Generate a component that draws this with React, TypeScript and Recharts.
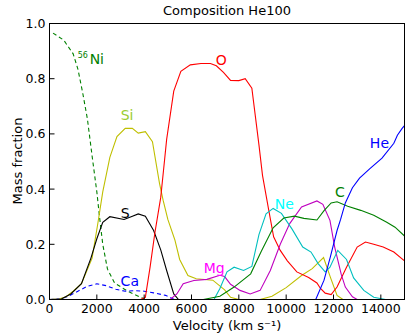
import { LineChart, Line, XAxis, YAxis, ReferenceDot, Label } from 'recharts'

const FONT = '"DejaVu Sans", sans-serif'

const velocityTicks = [0, 2000, 4000, 6000, 8000, 10000, 12000, 14000]
const fractionTicks = [0, 0.2, 0.4, 0.6, 0.8, 1.0]

// [velocity km/s, mass fraction]
const ni56 = [[150, 0.965], [600, 0.94], [1000, 0.89], [1200, 0.835], [1400, 0.75], [1600, 0.655], [1800, 0.52], [2000, 0.39], [2100, 0.31], [2250, 0.2], [2450, 0.11], [2750, 0.06], [3300, 0.03], [3900, 0.006], [4050, 0]]
const ca = [[0, 0], [500, 0.003], [800, 0.012], [1200, 0.03], [1600, 0.048], [2000, 0.057], [2400, 0.05], [2800, 0.037], [3200, 0.03], [3600, 0.032], [4000, 0.03], [4400, 0.024], [4900, 0.015], [5200, 0.003], [5400, 0]]
const si = [[0, 0], [400, 0.002], [700, 0.01], [1000, 0.03], [1350, 0.057], [1800, 0.15], [2050, 0.28], [2250, 0.39], [2550, 0.515], [2850, 0.59], [3200, 0.62], [3500, 0.62], [3750, 0.603], [4050, 0.608], [4350, 0.572], [4650, 0.42], [4800, 0.36], [5000, 0.29], [5300, 0.215], [5500, 0.145], [5850, 0.087], [6200, 0.075], [6900, 0.07], [7400, 0.035], [7650, 0.008], [8000, 0], [8900, 0], [9400, 0.012], [10000, 0.043], [10650, 0.087], [11100, 0.112], [11580, 0.152], [11870, 0.08], [12150, 0.015], [12400, 0], [15000, 0]]
const sulfur = [[0, 0], [500, 0.002], [900, 0.02], [1350, 0.057], [1750, 0.15], [2000, 0.22], [2250, 0.28], [2550, 0.3], [3150, 0.29], [3450, 0.3], [3750, 0.31], [4050, 0.302], [4400, 0.25], [4700, 0.18], [4950, 0.105], [5250, 0.02], [5450, 0], [15000, 0]]
const oxygen = [[0, 0], [3850, 0], [4050, 0.008], [4250, 0.117], [4450, 0.24], [4700, 0.37], [4820, 0.47], [4950, 0.58], [5250, 0.755], [5550, 0.827], [5950, 0.85], [6400, 0.855], [6800, 0.855], [7050, 0.847], [7350, 0.823], [7650, 0.794], [8000, 0.793], [8270, 0.8], [8550, 0.766], [8850, 0.56], [9000, 0.45], [9250, 0.33], [9470, 0.227], [9750, 0.178], [10050, 0.14], [10450, 0.1], [10950, 0.08], [11300, 0.06], [11450, 0.04], [11650, 0.023], [11900, 0.018], [12150, 0.045], [12550, 0.117], [13000, 0.19], [13350, 0.208], [13700, 0.2], [14100, 0.19], [14550, 0.172], [15000, 0.14]]
const mg = [[0, 0], [5100, 0], [5380, 0.02], [5650, 0.057], [6100, 0.069], [6650, 0.073], [7200, 0.088], [7400, 0.083], [7650, 0.055], [8050, 0.033], [8480, 0.02], [8900, 0.033], [9330, 0.105], [9750, 0.2], [10150, 0.275], [10650, 0.335], [11300, 0.357], [11550, 0.345], [11850, 0.287], [12050, 0.19], [12330, 0.09], [12500, 0.045], [12800, 0.01], [13000, 0], [15000, 0]]
const ne = [[0, 0], [6950, 0], [7200, 0.04], [7500, 0.1], [7800, 0.117], [8200, 0.105], [8550, 0.12], [8850, 0.235], [9150, 0.31], [9450, 0.33], [9800, 0.312], [10250, 0.255], [10700, 0.19], [11050, 0.172], [11350, 0.13], [11650, 0.1], [11850, 0.117], [12180, 0.178], [12550, 0.145], [12850, 0.078], [13280, 0.033], [13700, 0.008], [14200, 0], [15000, 0]]
const carbon = [[0, 0], [6500, 0], [7200, 0.012], [7800, 0.045], [8500, 0.093], [8950, 0.175], [9450, 0.26], [9900, 0.295], [10350, 0.302], [10750, 0.294], [11300, 0.288], [11600, 0.322], [11900, 0.35], [12150, 0.354], [12600, 0.338], [13150, 0.323], [13700, 0.305], [14250, 0.28], [14600, 0.262], [15000, 0.23]]
const he = [[0, 0], [11250, 0], [11600, 0.07], [11870, 0.155], [12150, 0.25], [12300, 0.29], [12500, 0.35], [12800, 0.405], [13100, 0.44], [13550, 0.475], [14050, 0.512], [14550, 0.566], [14700, 0.595], [14900, 0.62], [15000, 0.63]]

const series = [
  { name: 'Ni56', points: ni56, color: '#008000', dash: '4 3' },
  { name: 'Ca', points: ca, color: '#0000ff', dash: '4 3' },
  { name: 'Si', points: si, color: '#bfbf00' },
  { name: 'S', points: sulfur, color: '#000000' },
  { name: 'O', points: oxygen, color: '#ff0000' },
  { name: 'Mg', points: mg, color: '#bf00bf' },
  { name: 'Ne', points: ne, color: '#00bfbf' },
  { name: 'C', points: carbon, color: '#008000' },
  { name: 'He', points: he, color: '#0000ff' },
]

const annotations = [
  { text: '56', v: 1410, y: 0.884, color: '#008000', size: 8 },
  { text: 'Ni', v: 2000, y: 0.872, color: '#008000', size: 14 },
  { text: 'Si', v: 3280, y: 0.669, color: '#9acd32', size: 14 },
  { text: 'O', v: 7256, y: 0.869, color: '#ff0000', size: 14 },
  { text: 'S', v: 3194, y: 0.315, color: '#000000', size: 14 },
  { text: 'Ca', v: 3393, y: 0.067, color: '#0000ff', size: 14 },
  { text: 'Mg', v: 6960, y: 0.115, color: '#ff00ff', size: 14 },
  { text: 'Ne', v: 9922, y: 0.345, color: '#00ffff', size: 14 },
  { text: 'C', v: 12270, y: 0.389, color: '#008000', size: 14 },
  { text: 'He', v: 13941, y: 0.567, color: '#0000ff', size: 14 },
]

const toRows = (pts: number[][]) => pts.map(([v, y]) => ({ v, y }))

const tickStyle = { fill: '#000', fontSize: 12.5, fontFamily: FONT }
const blank = () => ''

export default function App() {
  return (
    <div style={{ position: 'absolute', left: 0, top: 0, width: 405, height: 334, background: '#fff', fontFamily: FONT }}>
      <div style={{ position: 'absolute', left: 50, top: 3, width: 354, textAlign: 'center', fontSize: 13, color: '#000' }}>
        Composition He100
      </div>
      <LineChart width={405} height={334} margin={{ top: 22.5, right: 0, bottom: 4.5, left: 0 }}>
        <XAxis
          dataKey="v"
          type="number"
          domain={[0, 15000]}
          ticks={velocityTicks}
          allowDataOverflow
          height={30}
          tick={tickStyle}
          tickSize={-5}
          tickMargin={10}
          stroke="#000"
        >
          <Label value="Velocity (km s⁻¹)" position="insideBottom" offset={0} fill="#000" fontSize={13} fontFamily={FONT} />
        </XAxis>
        <XAxis xAxisId="top" orientation="top" type="number" domain={[0, 15000]} ticks={velocityTicks} height={1} tickSize={-5} tickFormatter={blank} stroke="#000" />
        <YAxis
          type="number"
          domain={[0, 1]}
          ticks={fractionTicks}
          allowDataOverflow
          width={49.5}
          tick={tickStyle}
          tickSize={-5}
          tickMargin={9}
          tickFormatter={(t: number) => t.toFixed(1)}
          stroke="#000"
        >
          <Label
            content={() => (
              <text x={21.5} y={161} transform="rotate(-90 21.5 161)" textAnchor="middle" fill="#000" fontSize={13} fontFamily={FONT}>
                Mass fraction
              </text>
            )}
          />
        </YAxis>
        <YAxis yAxisId="right" orientation="right" type="number" domain={[0, 1]} ticks={fractionTicks} width={0.5} tickSize={-5} tickFormatter={blank} stroke="#000" />
        {series.map((s) => (
          <Line
            key={s.name}
            data={toRows(s.points)}
            dataKey="y"
            type="linear"
            stroke={s.color}
            strokeWidth={1.1}
            strokeDasharray={s.dash}
            dot={false}
            activeDot={false}
            isAnimationActive={false}
          />
        ))}
        {annotations.map((a) => (
          <ReferenceDot
            key={a.text}
            x={a.v}
            y={a.y}
            r={1}
            fill="none"
            stroke="none"
            label={{ value: a.text, position: 'center', fill: a.color, fontSize: a.size, fontFamily: FONT }}
          />
        ))}
      </LineChart>
      {/* plot frame, same spot as the axis lines */}
      <div
        style={{
          position: 'absolute',
          left: 49,
          top: 23,
          width: 356,
          height: 277,
          boxSizing: 'border-box',
          border: '1px solid #000',
          pointerEvents: 'none',
        }}
      />
    </div>
  )
}
